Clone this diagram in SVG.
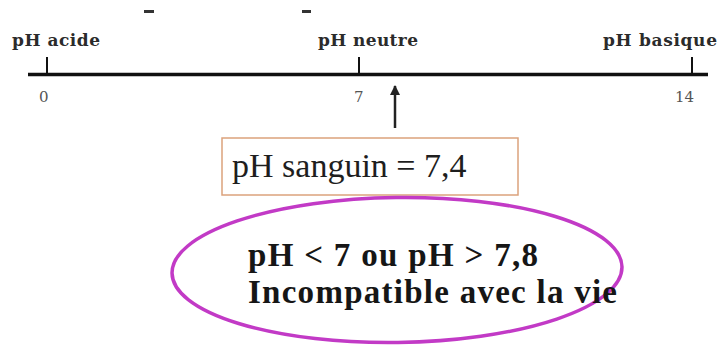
<svg xmlns="http://www.w3.org/2000/svg" width="721" height="347" viewBox="0 0 721 347">
<style>
.lbl{font-family:"DejaVu Serif","Liberation Serif",serif;font-weight:bold;font-size:17px;fill:#2b2b2b}
.num{font-family:"DejaVu Serif","Liberation Serif",serif;font-size:15px;fill:#555}
.box{font-family:"Liberation Serif","Times New Roman",serif;font-size:34px;fill:#1e1e1e}
.ell{font-family:"Liberation Serif","Times New Roman",serif;font-weight:bold;font-size:33px;fill:#161616}
</style>
<defs>
<marker id="ah" viewBox="0 0 10 10" refX="9" refY="5" markerWidth="4" markerHeight="4" orient="auto" markerUnits="strokeWidth">
<path d="M0,0 L10,5 L0,10 z" fill="#222"/>
</marker>
</defs>
<rect width="721" height="347" fill="#fff"/>
<g id="fragments" fill="#333">
<rect x="144" y="10" width="10" height="3"/>
<rect x="302" y="10" width="9" height="3"/>
</g>
<g id="axis">
<line x1="28" y1="74.5" x2="708" y2="74.5" stroke="#111" stroke-width="3.5"/>
<line x1="47" y1="57" x2="47" y2="74" stroke="#111" stroke-width="2"/>
<line x1="359" y1="57" x2="359" y2="74" stroke="#111" stroke-width="2"/>
<line x1="692" y1="57" x2="692" y2="74" stroke="#111" stroke-width="2"/>
</g>
<g id="label-acide"><text class="lbl" x="12" y="46" textLength="88" lengthAdjust="spacing">pH acide</text><text class="num" x="39" y="102">0</text></g>
<g id="label-neutre"><text class="lbl" x="318" y="46" textLength="100" lengthAdjust="spacing">pH neutre</text><text class="num" x="354" y="102">7</text></g>
<g id="label-basique"><text class="lbl" x="603" y="46" textLength="114" lengthAdjust="spacing">pH basique</text><text class="num" x="675" y="102">14</text></g>
<g id="connectors">
<line x1="395" y1="128" x2="395" y2="86" stroke="#222" stroke-width="2.5" marker-end="url(#ah)"/>
</g>
<g id="node-sanguin">
<rect x="222" y="138" width="296" height="57" fill="#fff" stroke="#dba27c" stroke-width="1.5"/>
<text class="box" x="232" y="177">pH sanguin = 7,4</text>
</g>
<g id="node-incompatible">
<ellipse cx="397" cy="270" rx="225" ry="72.5" fill="none" stroke="#c23ac6" stroke-width="3.5" transform="rotate(-0.8 397 270)"/>
<text class="ell" x="248" y="266" textLength="290" lengthAdjust="spacing">pH &lt; 7 ou pH &gt; 7,8</text>
<text class="ell" x="248" y="303" textLength="369" lengthAdjust="spacing">Incompatible avec la vie</text>
</g>
</svg>
